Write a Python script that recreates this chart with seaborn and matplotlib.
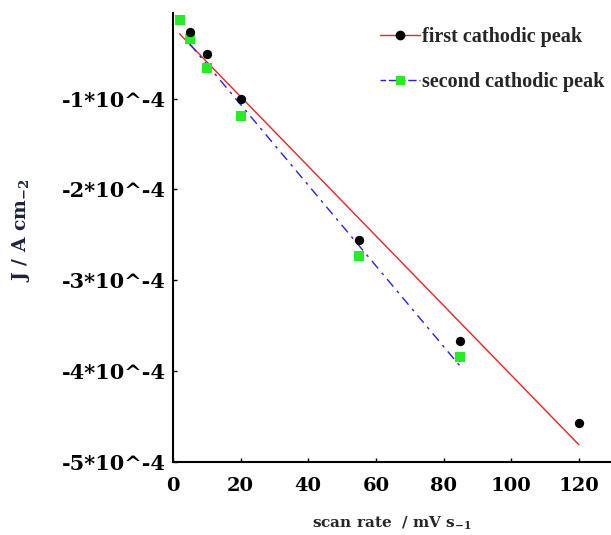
import numpy as np
import pandas as pd
import matplotlib
matplotlib.use("Agg")
import matplotlib.pyplot as plt
from matplotlib.lines import Line2D
from matplotlib.ticker import FixedLocator, FuncFormatter
import seaborn as sns

# ---- data ----
scan_rate_first = [5, 10, 20, 55, 85, 120]
j_first = [-0.265e-4, -0.511e-4, -1.008e-4, -2.553e-4, -3.675e-4, -4.57e-4]

scan_rate_second = [2, 5, 10, 20, 55, 85]
j_second = [-0.136e-4, -0.349e-4, -0.662e-4, -1.195e-4, -2.73e-4, -3.852e-4]

series_labels = ["first cathodic peak", "second cathodic peak"]
x_ticks = [0, 20, 40, 60, 80, 100, 120]
y_ticks = [-1e-4, -2e-4, -3e-4, -4e-4, -5e-4]

sns.set_theme(style="ticks")
FONT = "DejaVu Serif"
plt.rcParams["font.family"] = [FONT]
plt.rcParams["font.weight"] = "bold"
plt.rcParams["mathtext.fontset"] = "custom"
plt.rcParams["mathtext.rm"] = FONT + ":bold"
plt.rcParams["mathtext.default"] = "rm"

fig = plt.figure(figsize=(6.11, 5.35), dpi=100)
ax = fig.add_axes([0.283, 0.137, 0.717, 0.839])

df1 = pd.DataFrame({"x": scan_rate_first, "y": j_first})
df2 = pd.DataFrame({"x": scan_rate_second, "y": j_second})

# linear fits
p1 = np.polyfit(df1["x"], df1["y"], 1)
p2 = np.polyfit(df2["x"], df2["y"], 1)
xmin_all = min(min(scan_rate_first), min(scan_rate_second))
fx1 = np.linspace(xmin_all, max(scan_rate_first), 50)
fx2 = np.linspace(scan_rate_second[1], max(scan_rate_second), 50)
fit1 = pd.DataFrame({"x": fx1, "y": np.polyval(p1, fx1)})
fit2 = pd.DataFrame({"x": fx2, "y": np.polyval(p2, fx2)})

sns.lineplot(data=fit1, x="x", y="y", ax=ax, color="#ee2222", lw=1.0)
sns.lineplot(data=fit2, x="x", y="y", ax=ax, color="#2222ee", lw=1.0)
ax.lines[-1].set_dashes([7, 4, 2, 4])

sns.scatterplot(data=df2, x="x", y="y", ax=ax, marker="s", color="#22ee22",
                s=45, linewidth=0, zorder=3)
sns.scatterplot(data=df1, x="x", y="y", ax=ax, marker="o", color="black",
                s=45, linewidth=0, zorder=4)

ax.set_xlim(0, 129.5)
ax.set_ylim(-5e-4, -0.056e-4)
ax.xaxis.set_major_locator(FixedLocator(x_ticks))
ax.yaxis.set_major_locator(FixedLocator(y_ticks))
ax.yaxis.set_major_formatter(FuncFormatter(lambda v, p: f"-{int(round(-v*1e4))}*10^-4"))

for s in ["top", "right"]:
    ax.spines[s].set_visible(False)
for s in ["left", "bottom"]:
    ax.spines[s].set_linewidth(1.5)
    ax.spines[s].set_color("black")

ax.tick_params(axis="both", direction="in", length=3, width=1, colors="black")
ax.tick_params(axis="x", labelsize=14, pad=11)
ax.tick_params(axis="y", labelsize=15, pad=5)
for lab in ax.get_xticklabels() + ax.get_yticklabels():
    lab.set_fontweight("bold")

ax.set_xlabel(r"scan rate  / mV s$_{-1}$", fontsize=11, fontweight="bold", labelpad=14)
ax.set_ylabel(r"J / A cm$_{-2}$", fontsize=13.5, fontweight="bold", color="#1c2240")
ax.yaxis.set_label_coords(-0.322, 0.516)

handles = [
    Line2D([], [], color="#ee2222", lw=1.0, marker="o", markersize=6,
           markerfacecolor="black", markeredgecolor="black"),
    Line2D([], [], color="#2222ee", lw=1.0, dashes=[4, 2, 6, 2], marker="s", markersize=6,
           markerfacecolor="#22ee22", markeredgecolor="#22ee22"),
]
leg = ax.legend(handles, series_labels, loc="upper left", bbox_to_anchor=(0.4726, 0.968),
                frameon=False, handlelength=2.0, handletextpad=0.1,
                labelspacing=1.25, borderpad=0, borderaxespad=0,
                prop={"family": "Liberation Serif", "weight": "bold", "size": 14.5})

fig.savefig("out.png", dpi=100)
